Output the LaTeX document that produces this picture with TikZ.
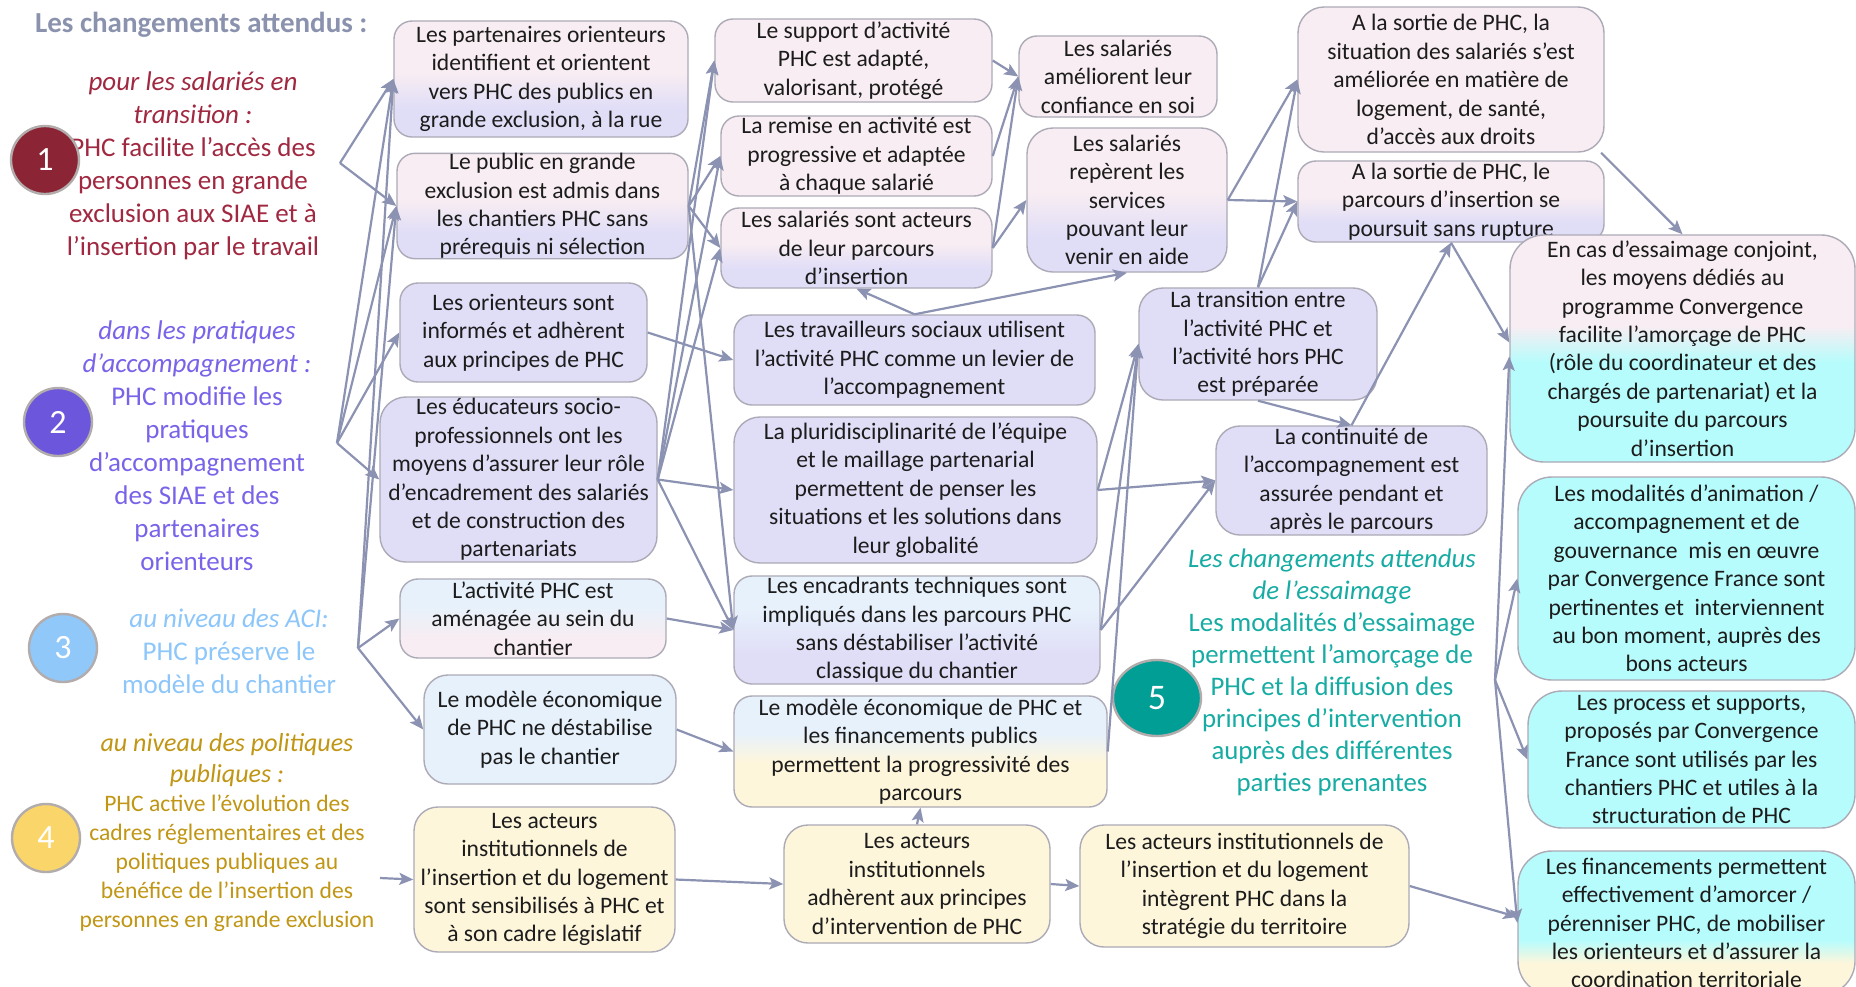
\documentclass[tikz,border=0pt]{standalone}
\usepackage{fontspec}
\setmainfont{Carlito}
\usetikzlibrary{arrows.meta,calc,shapes.geometric}
\definecolor{pinkc}{RGB}{248,237,242}
\definecolor{lavc}{RGB}{224,221,247}
\definecolor{bluec}{RGB}{231,241,251}
\definecolor{yelc}{RGB}{254,246,219}
\definecolor{cyanc}{RGB}{183,252,252}
\definecolor{bordc}{RGB}{172,170,182}
\definecolor{arrowc}{RGB}{140,146,178}
\definecolor{txtc}{RGB}{28,28,28}
\definecolor{redc}{RGB}{160,40,64}
\definecolor{purpc}{RGB}{120,100,232}
\definecolor{lbluec}{RGB}{140,198,250}
\definecolor{goldc}{RGB}{192,150,20}
\definecolor{tealc}{RGB}{22,172,163}
\definecolor{titlec}{RGB}{138,146,174}
\definecolor{cone}{RGB}{139,36,52}
\definecolor{ctwo}{RGB}{108,86,220}
\definecolor{cthree}{RGB}{145,200,250}
\definecolor{cfour}{RGB}{250,214,106}
\definecolor{cfive}{RGB}{0,158,148}
\definecolor{circb}{RGB}{178,172,172}
\pgfdeclareverticalshading{shpl}{100bp}{color(0bp)=(lavc); color(37bp)=(lavc); color(53bp)=(pinkc); color(100bp)=(pinkc)}
\pgfdeclareverticalshading{shbp}{100bp}{color(0bp)=(pinkc); color(37bp)=(pinkc); color(58bp)=(bluec); color(100bp)=(bluec)}
\pgfdeclareverticalshading{shbl}{100bp}{color(0bp)=(lavc); color(38bp)=(lavc); color(60bp)=(bluec); color(100bp)=(bluec)}
\pgfdeclareverticalshading{shby}{100bp}{color(0bp)=(yelc); color(45bp)=(yelc); color(58bp)=(bluec); color(100bp)=(bluec)}
\pgfdeclareverticalshading{shpc}{100bp}{color(0bp)=(cyanc); color(47bp)=(cyanc); color(55bp)=(pinkc); color(100bp)=(pinkc)}
\pgfdeclareverticalshading{shcy}{100bp}{color(0bp)=(yelc); color(36bp)=(yelc); color(44bp)=(cyanc); color(100bp)=(cyanc)}
\newcommand\bx[7]{%
\pgfmathsetmacro\bxcx{(#2+#4)/2}%
\pgfmathsetmacro\bxcy{(#3+#5)/2}%
\pgfmathsetmacro\bxw{(#4-#2)/2}%
\pgfmathsetmacro\bxh{(#5-#3)/2}%
\node[box,#6,minimum width=\bxw pt,minimum height=\bxh pt] (#1) at (\bxcx,\bxcy) {#7};}
\begin{document}
\begin{tikzpicture}[x=0.5pt,y=-0.5pt,
  box/.style={draw=bordc,line width=0.7pt,rounded corners=9pt,align=center,inner xsep=3pt,inner ysep=0pt,font=\fontsize{11.8}{14.2}\selectfont,text=txtc},
  arr/.style={draw=arrowc,line width=1.1pt,-{Stealth[length=7pt,width=6pt,inset=1.5pt]}},
  circ/.style={circle,draw=circb,line width=1.2pt,minimum size=34pt,inner sep=0pt,text=white,font=\fontsize{17}{17}\selectfont},
  lefttxt/.style={align=center,font=\fontsize{13.5}{16.5}\selectfont}]
\fill[white] (0,0) rectangle (1856,986);
\useasboundingbox (0,0) rectangle (1856,986);
% title and left texts
\node[anchor=west,font=\bfseries\fontsize{14.5}{16}\selectfont,text=titlec] (title) at (28,25) {Les changements attendus :};
\node[lefttxt,text=redc] (t1) at (193,166) {\textit{pour les salariés en}\\\textit{transition :}\\PHC facilite l’accès des\\personnes en grande\\exclusion aux SIAE et à\\l’insertion par le travail};
\node[lefttxt,text=purpc] (t2) at (197,446) {\textit{dans les pratiques}\\\textit{d’accompagnement :}\\PHC modifie les\\pratiques\\d’accompagnement\\des SIAE et des\\partenaires\\orienteurs};
\node[lefttxt,text=lbluec] (t3) at (229,651) {\textit{au niveau des ACI:}\\PHC préserve le\\modèle du chantier};
\node[align=center,text=goldc,font=\fontsize{11.8}{14.5}\selectfont] (t4) at (227,832) {{\fontsize{13}{14.5}\selectfont\itshape au niveau des politiques}\\[1pt]{\fontsize{13}{14.5}\selectfont\itshape publiques :}\\PHC active l’évolution des\\cadres réglementaires et des\\politiques publiques au\\bénéfice de l’insertion des\\personnes en grande exclusion};
\node[align=center,text=tealc,font=\fontsize{13.4}{16}\selectfont] (t5) at (1332,672) {\textit{Les changements attendus}\\\textit{de l’essaimage}\\Les modalités d’essaimage\\permettent l’amorçage de\\PHC et la diffusion des\\principes d’intervention\\auprès des différentes\\parties prenantes};
% circles
\node[circ,fill=cone] (n1) at (45,160) {1};
\node[circ,fill=ctwo] (n2) at (58,422) {2};
\node[circ,fill=cthree] (n3) at (63,648) {3};
\node[circ,fill=cfour] (n4) at (46,838) {4};
\node[ellipse,draw=circb,line width=1.2pt,minimum width=44pt,minimum height=38pt,inner sep=0pt,text=white,font=\fontsize{18}{18}\selectfont,fill=cfive] (n5) at (1157,698) {5};
% column A
\bx{A1}{394}{21}{688}{137}{shade,shading=shpl}{Les partenaires orienteurs\\identifient et orientent\\vers PHC des publics en\\grande exclusion, à la rue}
\bx{A2}{397}{154}{688}{258}{shade,shading=shpl}{Le public en grande\\exclusion est admis dans\\les chantiers PHC sans\\prérequis ni sélection}
\bx{A3}{400}{283}{647}{382}{fill=lavc}{Les orienteurs sont\\informés et adhèrent\\aux principes de PHC}
\bx{A4}{380}{397}{657}{562}{fill=lavc,rounded corners=13pt}{Les éducateurs socio-\\professionnels ont les\\moyens d’assurer leur rôle\\d’encadrement des salariés\\et de construction des\\partenariats}
\bx{A5}{400}{579}{666}{658}{shade,shading=shbp}{L’activité PHC est\\aménagée au sein du\\chantier}
\bx{A6}{424}{675}{676}{784}{fill=bluec,rounded corners=12pt}{Le modèle économique\\de PHC ne déstabilise\\pas le chantier}
\bx{A7}{414}{807}{675}{952}{fill=yelc,rounded corners=12pt}{Les acteurs\\institutionnels de\\l’insertion et du logement\\sont sensibilisés à PHC et\\à son cadre législatif}
% column B
\bx{B1}{715}{19}{992}{102}{fill=pinkc}{Le support d’activité\\PHC est adapté,\\valorisant, protégé}
\bx{B2}{721}{116}{992}{196}{fill=pinkc}{La remise en activité est\\progressive et adaptée\\à chaque salarié}
\bx{B3}{721}{208}{992}{288}{shade,shading=shpl}{Les salariés sont acteurs\\de leur parcours\\d’insertion}
\bx{B4}{734}{315}{1095}{405}{fill=lavc}{Les travailleurs sociaux utilisent\\l’activité PHC comme un levier de\\l’accompagnement}
\bx{B5}{734}{417}{1097}{563}{fill=lavc,rounded corners=13pt}{La pluridisciplinarité de l’équipe\\et le maillage partenarial\\permettent de penser les\\situations et les solutions dans\\leur globalité}
\bx{B6}{734}{576}{1100}{684}{shade,shading=shbl}{Les encadrants techniques sont\\impliqués dans les parcours PHC\\sans déstabiliser l’activité\\classique du chantier}
\bx{B7}{734}{696}{1107}{807}{shade,shading=shby}{Le modèle économique de PHC et\\les financements publics\\permettent la progressivité des\\parcours}
\bx{B8}{784}{825}{1050}{943}{fill=yelc,rounded corners=12pt}{Les acteurs\\institutionnels\\adhèrent aux principes\\d’intervention de PHC}
% column C
\bx{C1}{1019}{36}{1217}{117}{fill=pinkc}{Les salariés\\améliorent leur\\confiance en soi}
\bx{C2}{1027}{128}{1227}{272}{shade,shading=shpl,rounded corners=13pt}{Les salariés\\repèrent les\\services\\pouvant leur\\venir en aide}
\bx{C3}{1139}{288}{1377}{400}{fill=lavc,rounded corners=12pt}{La transition entre\\l’activité PHC et\\l’activité hors PHC\\est préparée}
\bx{C4}{1216}{426}{1487}{535}{fill=lavc,rounded corners=12pt}{La continuité de\\l’accompagnement est\\assurée pendant et\\après le parcours}
\bx{C5}{1080}{825}{1409}{947}{fill=yelc,rounded corners=12pt}{Les acteurs institutionnels de\\l’insertion et du logement\\intègrent PHC dans la\\stratégie du territoire}
% column D
\bx{D1}{1298}{7}{1604}{152}{fill=pinkc,rounded corners=13pt}{A la sortie de PHC, la\\situation des salariés s’est\\améliorée en matière de\\logement, de santé,\\d’accès aux droits}
\bx{D2}{1298}{161}{1604}{242}{shade,shading=shpl}{A la sortie de PHC, le\\parcours d’insertion se\\poursuit sans rupture}
% column E
\bx{E1}{1510}{235}{1855}{462}{shade,shading=shpc,rounded corners=17pt}{En cas d’essaimage conjoint,\\les moyens dédiés au\\programme Convergence\\facilite l’amorçage de PHC\\(rôle du coordinateur et des\\chargés de partenariat) et la\\poursuite du parcours\\d’insertion}
\bx{E2}{1518}{477}{1855}{680}{fill=cyanc,rounded corners=17pt}{Les modalités d’animation /\\accompagnement et de\\gouvernance~ mis en œuvre\\par Convergence France sont\\pertinentes et~ interviennent\\au bon moment, auprès des\\bons acteurs}
\bx{E3}{1528}{691}{1855}{828}{fill=cyanc,rounded corners=17pt}{Les process et supports,\\proposés par Convergence\\France sont utilisés par les\\chantiers PHC et utiles à la\\structuration de PHC}
\bx{E4}{1518}{851}{1855}{995}{shade,shading=shcy,rounded corners=17pt}{Les financements permettent\\effectivement d’amorcer /\\pérenniser PHC, de mobiliser\\les orienteurs et d’assurer la\\coordination territoriale}
% hubs
\coordinate (h1) at (340,163);
\coordinate (h2) at (337,443);
\coordinate (h3) at (358,648);
\coordinate (h4) at (380,878);
\coordinate (h5) at (1495,680);
% connectors
\draw[arr] (h1) -- (A1.west);
\draw[arr] (h1) -- (A2.west);
\draw[arr] (h2) -- (A1.west);
\draw[arr] (h2) -- (A2.west);
\draw[arr] (h2) -- (A3.west);
\draw[arr] (h2) -- (A4.west);
\draw[arr] (h3) -- (A1.west);
\draw[arr] (h3) -- (A2.west);
\draw[arr] (h3) -- (A5.west);
\draw[arr] (h3) -- (A6.west);
\draw[arr] (h4) -- (A7.west);
\draw[arr] (A2.east) -- (B1.west);
\draw[arr] (A2.east) -- (B2.west);
\draw[arr] (A2.east) -- (B3.west);
\draw[arr] (A2.east) -- (B6.west);
\draw[arr] (A3.east) -- (B4.west);
\draw[arr] (A4.east) -- (B1.west);
\draw[arr] (A4.east) -- (B2.west);
\draw[arr] (A4.east) -- (B3.west);
\draw[arr] (A4.east) -- (B5.west);
\draw[arr] (A4.east) -- (B6.west);
\draw[arr] (A5.east) -- (B6.west);
\draw[arr] (A6.east) -- (B7.west);
\draw[arr] (A7.east) -- (B8.west);
\draw[arr] (B8.north) -- (B7.south);
\draw[arr] (B8.east) -- (C5.west);
\draw[arr] (B1.east) -- (C1.west);
\draw[arr] (B2.east) -- (C1.west);
\draw[arr] (B3.east) -- (C1.west);
\draw[arr] (B3.east) -- (C2.west);
\draw[arr] (B4.north) -- (B3.south);
\draw[arr] (B4.north) -- (C2.south);
\draw[arr] (B5.east) -- (C3.west);
\draw[arr] (B5.east) -- (C4.west);
\draw[arr] (B6.east) -- (C3.west);
\draw[arr] (B6.east) -- (C4.west);
\draw[arr] (B7.east) -- (C3.west);
\draw[arr] (C2.east) -- (D1.west);
\draw[arr] (C2.east) -- (D2.west);
\draw[arr] (C3.north) -- (D1.west);
\draw[arr] (C3.north) -- (D2.west);
\draw[arr] (C3.south) -- (C4.north);
\draw[arr] (C4.north) -- (D2.south);
\draw[arr] (D2.south) -- ([yshift=3pt]E1.west);
\draw[arr] (D1.-26) -- (E1.north);
\draw[arr] (h5) -- ([yshift=-4pt]E1.west);
\draw[arr] (h5) -- (E2.west);
\draw[arr] (h5) -- (E3.west);
\draw[arr] (h5) -- (E4.west);
\draw[arr] (C5.east) -- ([yshift=3pt]E4.west);
\end{tikzpicture}
\end{document}
